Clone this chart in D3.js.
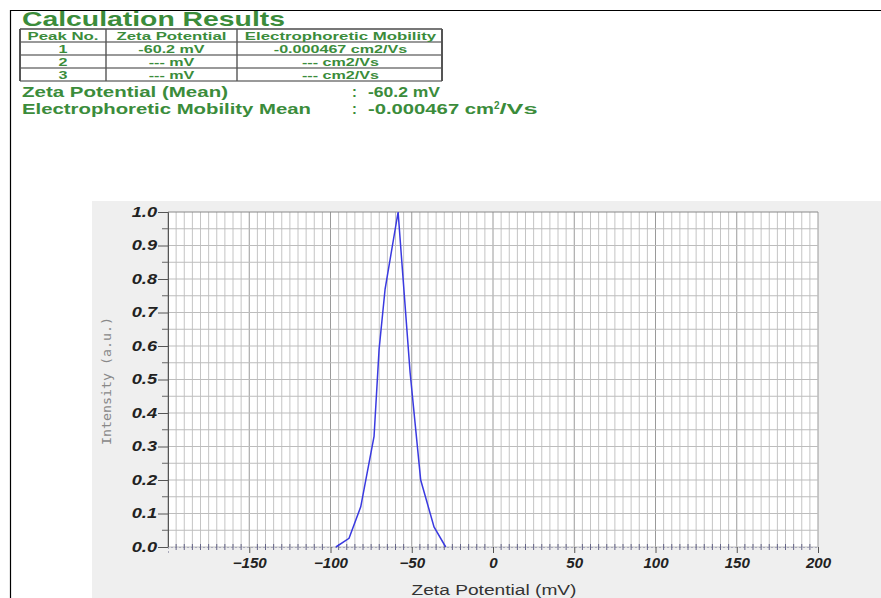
<!DOCTYPE html>
<html>
<head>
<meta charset="utf-8">
<script src="https://cdn.jsdelivr.net/npm/d3@7"></script>
<style>
  body { margin: 0; background: #fff; }
  svg { display: block; }
</style>
</head>
<body>
<script>
'use strict';

// table contents
const headers = ["Peak No.", "Zeta Potential", "Electrophoretic Mobility"];
const peakNos = ["1", "2", "3"];
const zetaValues = ["-60.2 mV", "--- mV", "--- mV"];
const mobilityValues = ["-0.000467 cm2/Vs", "--- cm2/Vs", "--- cm2/Vs"];

// distribution curve
const zeta = [-96.7, -88.6, -81.4, -73.2, -70.1, -66.4, -58.4, -51.0, -44.5, -36.3, -29.1];
const intensity = [0.0, 0.026, 0.12, 0.33, 0.59, 0.77, 1.0, 0.52, 0.2, 0.06, 0.0];

const xTicks = [-150, -100, -50, 0, 50, 100, 150, 200];
const yTicks = [0, 0.1, 0.2, 0.3, 0.4, 0.5, 0.6, 0.7, 0.8, 0.9, 1.0];

const green = "#3b8c3b";
const W = 881, H = 598;

const svg = d3.select("body").append("svg")
  .attr("width", W)
  .attr("height", H);

// the original print is wider than the font, so widen text by a factor
function stretch(sel, k) {
  sel.each(function() {
    const w = this.getComputedTextLength();
    d3.select(this)
      .attr("textLength", w * k)
      .attr("lengthAdjust", "spacingAndGlyphs");
  });
}

// page frame
svg.append("path")
  .attr("d", "M10.5,598 V10.5 H881")
  .attr("fill", "none")
  .attr("stroke", "#000")
  .attr("stroke-width", 1.2);

// title
svg.append("text")
  .attr("x", 22)
  .attr("y", 26)
  .attr("textLength", 263)
  .attr("lengthAdjust", "spacingAndGlyphs")
  .style("font", "bold 21px 'Liberation Sans', Arial, sans-serif")
  .attr("fill", green)
  .text("Calculation Results");

// results table
const colX = [20, 106, 237, 442];
const rowY = [29, 42, 55, 68, 81];
const table = svg.append("g");

table.selectAll("line.h")
  .data(rowY)
  .enter()
  .append("line")
  .attr("x1", colX[0]).attr("x2", colX[3])
  .attr("y1", d => d).attr("y2", d => d)
  .attr("stroke", "#777")
  .attr("stroke-width", (d, i) => (i === 0 ? 2 : 1.4));

table.selectAll("line.v")
  .data(colX)
  .enter()
  .append("line")
  .attr("x1", d => d).attr("x2", d => d)
  .attr("y1", rowY[0]).attr("y2", rowY[4])
  .attr("stroke", "#555")
  .attr("stroke-width", (d, i) => (i === 0 || i === 3 ? 2 : 1.4));

const cellFont = "bold 11.5px 'Liberation Sans', Arial, sans-serif";
const colCenters = [63, 171.5, 340.5];

const headTexts = table.selectAll("text.head")
  .data(headers)
  .enter()
  .append("text")
  .attr("x", (d, i) => colCenters[i])
  .attr("y", 40)
  .attr("text-anchor", "middle")
  .style("font", cellFont)
  .attr("fill", green)
  .text(d => d);
stretch(headTexts, 1.46);

const rows = peakNos.map((p, i) => [p, zetaValues[i], mobilityValues[i]]);
rows.forEach((r, ri) => {
  const t = table.selectAll("text.r" + ri)
    .data(r)
    .enter()
    .append("text")
    .attr("x", (d, i) => colCenters[i])
    .attr("y", rowY[ri + 1] + 11)
    .attr("text-anchor", "middle")
    .style("font", cellFont)
    .attr("fill", green)
    .text(d => d);
  stretch(t, 1.4);
});

// mean values
const meanFont = "bold 14.5px 'Liberation Sans', Arial, sans-serif";
svg.append("text").attr("x", 22).attr("y", 97)
  .attr("textLength", 206).attr("lengthAdjust", "spacingAndGlyphs")
  .style("font", meanFont).attr("fill", green)
  .text("Zeta Potential (Mean)");
svg.append("text").attr("x", 352).attr("y", 97)
  .style("font", meanFont).attr("fill", green)
  .text(":");
svg.append("text").attr("x", 368).attr("y", 97)
  .attr("textLength", 72).attr("lengthAdjust", "spacingAndGlyphs")
  .style("font", meanFont).attr("fill", green)
  .text("-60.2 mV");

svg.append("text").attr("x", 22).attr("y", 114)
  .attr("textLength", 289).attr("lengthAdjust", "spacingAndGlyphs")
  .style("font", meanFont).attr("fill", green)
  .text("Electrophoretic Mobility Mean");
svg.append("text").attr("x", 352).attr("y", 114)
  .style("font", meanFont).attr("fill", green)
  .text(":");
const mob = svg.append("text").attr("x", 368).attr("y", 114)
  .style("font", meanFont).attr("fill", green);
mob.append("tspan").attr("textLength", 126).attr("lengthAdjust", "spacingAndGlyphs")
  .text("-0.000467 cm");
mob.append("tspan").attr("dy", -5).style("font-size", "10px").text("2");
mob.append("tspan").attr("dy", 5).attr("textLength", 38).attr("lengthAdjust", "spacingAndGlyphs")
  .text("/Vs");

// chart panel
svg.append("rect")
  .attr("x", 92).attr("y", 201)
  .attr("width", W - 92).attr("height", H - 201)
  .attr("fill", "#efefef");

const plot = { left: 168, right: 818, top: 212, bottom: 547 };

const x = d3.scaleLinear().domain([-200, 200]).range([plot.left, plot.right]);
const y = d3.scaleLinear().domain([0, 1]).range([plot.bottom, plot.top]);

svg.append("rect")
  .attr("x", plot.left).attr("y", plot.top)
  .attr("width", plot.right - plot.left).attr("height", plot.bottom - plot.top)
  .attr("fill", "#fff");

// grid
const minorX = d3.range(-200, 201, 5);
const minorY = d3.range(0, 1.0001, 0.05);

svg.append("g").selectAll("line")
  .data(minorX)
  .enter()
  .append("line")
  .attr("x1", d => x(d)).attr("x2", d => x(d))
  .attr("y1", plot.top).attr("y2", plot.bottom)
  .attr("stroke", d => (d % 50 === 0 ? "#9a9a9a" : "#c4c4c4"))
  .attr("stroke-width", 1);

svg.append("g").selectAll("line")
  .data(minorY)
  .enter()
  .append("line")
  .attr("x1", plot.left).attr("x2", plot.right)
  .attr("y1", d => y(d)).attr("y2", d => y(d))
  .attr("stroke", (d, i) => (i === minorY.length - 1 ? "#888" : "#bdbdbd"))
  .attr("stroke-width", 1);

// y axis
const axisFont = "italic bold 14px 'Liberation Sans', Arial, sans-serif";
const yAxis = d3.axisLeft(y)
  .tickValues(yTicks)
  .tickFormat(d3.format(".1f"))
  .tickSize(10)
  .tickPadding(1);
const gy = svg.append("g")
  .attr("transform", `translate(${plot.left},0)`)
  .call(yAxis);
gy.select(".domain").attr("stroke", "#555");
gy.selectAll(".tick line").attr("stroke", "#555");
gy.selectAll(".tick text").style("font", axisFont).attr("fill", "#222");
stretch(gy.selectAll(".tick text"), 1.3);

svg.append("g").selectAll("line")
  .data(d3.range(0.05, 1, 0.1))
  .enter()
  .append("line")
  .attr("x1", plot.left - 6).attr("x2", plot.left)
  .attr("y1", d => y(d)).attr("y2", d => y(d))
  .attr("stroke", "#666");

// x axis
const xAxis = d3.axisBottom(x)
  .tickValues(xTicks)
  .tickSize(6)
  .tickPadding(5);
const gx = svg.append("g")
  .attr("transform", `translate(0,${plot.bottom})`)
  .call(xAxis);
gx.select(".domain").attr("stroke", "#aab").attr("stroke-dasharray", "2,2");
gx.selectAll(".tick line").attr("stroke", "#555");
gx.selectAll(".tick text").style("font", axisFont).attr("fill", "#222");
stretch(gx.selectAll(".tick text"), 1.08);

svg.append("g").selectAll("line")
  .data(minorX.filter(d => d % 50 !== 0))
  .enter()
  .append("line")
  .attr("x1", d => x(d)).attr("x2", d => x(d))
  .attr("y1", plot.bottom - 3).attr("y2", plot.bottom + 3)
  .attr("stroke", "#668")
  .attr("stroke-width", 1);

// axis titles
svg.append("text")
  .attr("x", 494).attr("y", 595)
  .attr("text-anchor", "middle")
  .attr("textLength", 165)
  .attr("lengthAdjust", "spacingAndGlyphs")
  .style("font", "14px 'Liberation Sans', Arial, sans-serif")
  .attr("fill", "#333")
  .text("Zeta Potential (mV)");

svg.append("text")
  .attr("transform", "translate(111,381) rotate(-90)")
  .attr("text-anchor", "middle")
  .attr("textLength", 128)
  .attr("lengthAdjust", "spacingAndGlyphs")
  .style("font", "13px 'DejaVu Sans Mono', monospace")
  .attr("fill", "#888")
  .text("Intensity (a.u.)");

// curve
const line = d3.line()
  .x((d, i) => x(zeta[i]))
  .y(d => y(d));

svg.append("path")
  .datum(intensity)
  .attr("d", line)
  .attr("fill", "none")
  .attr("stroke", "#3a3ae0")
  .attr("stroke-width", 1.5);
</script>
</body>
</html>
